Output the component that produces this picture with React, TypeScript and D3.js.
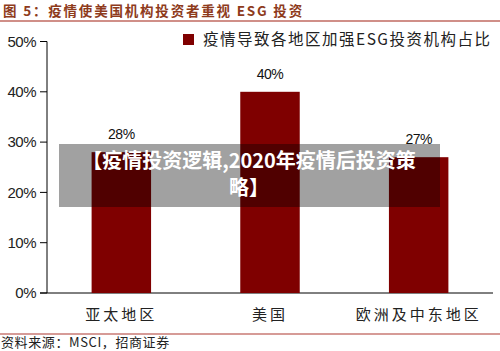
import React from "react";
import * as d3 from "d3";

const categories = ["亚太地区", "美国", "欧洲及中东地区"];
const values = [28, 40, 27];
const yTicks = [0, 10, 20, 30, 40, 50];
const seriesName = "疫情导致各地区加强ESG投资机构占比";
const titleText = "图 5：疫情使美国机构投资者重视 ESG 投资";
const sourceText = "资料来源：MSCI，招商证券";
const watermark = ["【疫情投资逻辑,2020年疫情后投资策", "略】"];

const W = 500, H = 351;
const plot = { left: 47, right: 493, top: 41.5, bottom: 293 };
const cjk = "'Noto Sans CJK SC', 'Noto Sans', sans-serif";
const latin = "'Liberation Sans', Arial, sans-serif";

export default function App() {
  const x = d3.scaleBand<string>().domain(categories).range([plot.left, plot.right]).paddingInner(0.6).paddingOuter(0.3);
  const y = d3.scaleLinear().domain([0, 50]).range([plot.bottom, plot.top]);
  const barColor = "#7f0000";
  return (
    <svg width={W} height={H} style={{ position: "absolute", left: 0, top: 0, background: "#fff" }}>
      <text x={3} y={16} fontFamily={cjk} fontWeight="bold" fontSize={13.5} fill="#8e3b1c" letterSpacing={1.8}>{titleText}</text>
      <line x1={0} x2={W} y1={21} y2={21} stroke="#c06a60" strokeWidth={1.5} />
      {/* y axis */}
      <line x1={plot.left} x2={plot.left} y1={plot.top} y2={plot.bottom} stroke="#000" strokeWidth={1} />
      {yTicks.map(t => (
        <g key={t}>
          <line x1={40} x2={plot.left} y1={y(t)} y2={y(t)} stroke="#000" />
          <text x={36} y={y(t)} dy="0.35em" textAnchor="end" fontFamily={latin} fontSize={15} fill="#222" letterSpacing={-0.5}>{t}%</text>
        </g>
      ))}
      <line x1={40} x2={plot.right} y1={plot.bottom} y2={plot.bottom} stroke="#000" />
      {categories.map((c, i) => (
        <g key={c}>
          <rect x={x(c)} y={y(values[i])} width={x.bandwidth()} height={plot.bottom - y(values[i])} fill={barColor} />
          <text x={(x(c) as number) + x.bandwidth() / 2} y={y(values[i]) - 13} textAnchor="middle" fontFamily={latin} fontSize={14} fill="#111" letterSpacing={-0.5}>{values[i]}%</text>
          <text x={(x(c) as number) + x.bandwidth() / 2} y={320} textAnchor="middle" fontFamily={cjk} fontSize={15} fill="#222" letterSpacing={3}>{c}</text>
        </g>
      ))}
      {/* legend */}
      <rect x={183} y={34} width={11} height={11} fill={barColor} />
      <text x={203} y={45} fontFamily={cjk} fontSize={15.5} fill="#222" letterSpacing={1.5}>{seriesName}</text>
      <line x1={0} x2={W} y1={334} y2={334} stroke="#c87a74" strokeWidth={1.5} />
      <text x={1} y={347} fontFamily={cjk} fontSize={13} fill="#222" letterSpacing={0.6}>{sourceText}</text>
      {/* watermark */}
      <rect x={59} y={144} width={381} height={63} fill="rgba(0,0,0,0.37)" />
      <text x={249} y={168} textAnchor="middle" fontFamily={cjk} fontWeight="bold" fontSize={20} fill="#fff">{watermark[0]}</text>
      <text x={249} y={195} textAnchor="middle" fontFamily={cjk} fontWeight="bold" fontSize={20} fill="#fff">{watermark[1]}</text>
    </svg>
  );
}
